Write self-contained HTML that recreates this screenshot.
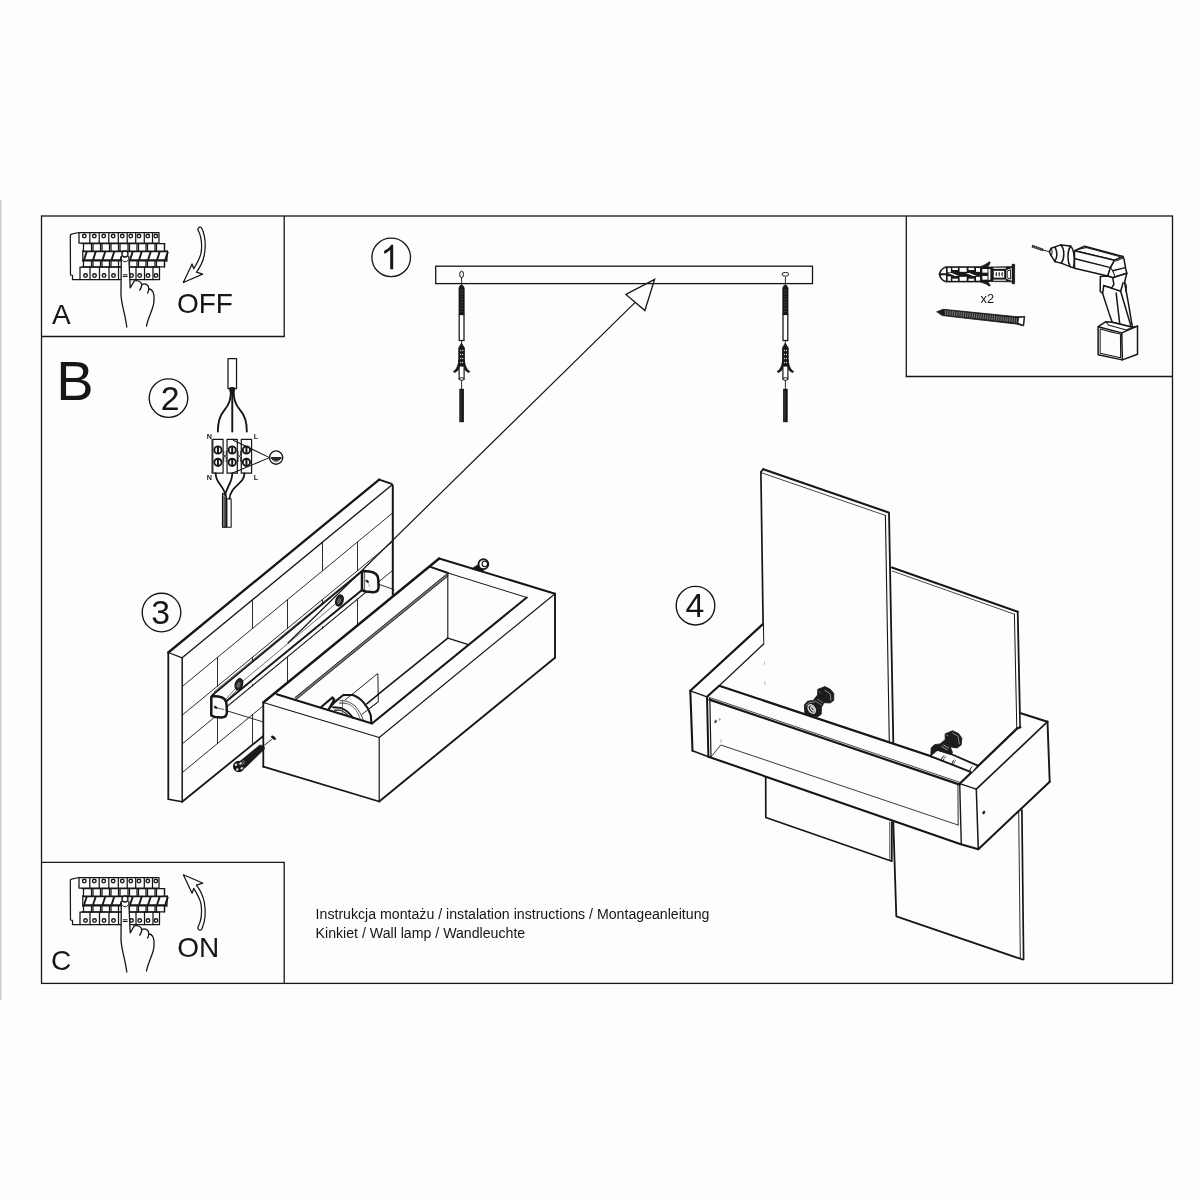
<!DOCTYPE html>
<html><head><meta charset="utf-8"><title>Instrukcja montazu</title>
<style>
html,body{margin:0;padding:0;background:#fdfdfb;}
svg{display:block;will-change:transform;}
text{font-family:"Liberation Sans",sans-serif;fill:#161616;}
</style></head><body>
<svg width="1200" height="1200" viewBox="0 0 1200 1200">
<rect x="0" y="0" width="1200" height="1200" fill="#fdfdfb"/>
<rect x="0" y="200" width="1.3" height="800" fill="#c9c9c9"/>
<rect x="41.5" y="216" width="1131" height="767.4" fill="none" stroke="#161616" stroke-width="1.3"/>
<path d="M41.5,336.5 L284.2,336.5 L284.2,216.0" fill="none" stroke="#161616" stroke-width="1.30" stroke-linejoin="miter" stroke-linecap="butt" />
<path d="M41.5,862.3 L284.2,862.3 L284.2,983.0" fill="none" stroke="#161616" stroke-width="1.30" stroke-linejoin="miter" stroke-linecap="butt" />
<path d="M906.3,216.0 L906.3,376.5 L1172.5,376.5" fill="none" stroke="#161616" stroke-width="1.30" stroke-linejoin="miter" stroke-linecap="butt" />
<text x="52.0" y="324.2" font-size="28" font-weight="normal" text-anchor="start" >A</text>
<text x="56.2" y="400.1" font-size="56" font-weight="normal" text-anchor="start" >B</text>
<text x="51.1" y="970.3" font-size="28" font-weight="normal" text-anchor="start" >C</text>
<text x="176.95" y="313.0" font-size="28" font-weight="normal" text-anchor="start" >OFF</text>
<text x="177.15" y="957.3" font-size="28" font-weight="normal" text-anchor="start" >ON</text>
<circle cx="391.2" cy="257.4" r="19.3" fill="none" stroke="#161616" stroke-width="1.35"/>
<circle cx="168.5" cy="398.1" r="19.3" fill="none" stroke="#161616" stroke-width="1.35"/>
<circle cx="161.5" cy="612.5" r="19.3" fill="none" stroke="#161616" stroke-width="1.35"/>
<circle cx="695.5" cy="605.7" r="19.3" fill="none" stroke="#161616" stroke-width="1.35"/>
<path transform="translate(380.42,269.3) scale(0.016748,-0.016748)" d="M763 0H583V1147Q518 1085 412.5 1023T223 930V1104Q373 1174.5 485.5 1275T645 1470H763Z" fill="#161616"/>
<text x="170.2" y="410.1" font-size="33.8" font-weight="normal" text-anchor="middle" >2</text>
<text x="160.6" y="624.4" font-size="33.8" font-weight="normal" text-anchor="middle" >3</text>
<text x="695.0" y="617.05" font-size="33.8" font-weight="normal" text-anchor="middle" >4</text>
<text x="315.6" y="918.8" font-size="14.15" font-weight="normal" text-anchor="start" >Instrukcja montażu / instalation instructions / Montageanleitung</text>
<text x="315.6" y="937.5" font-size="14.15" font-weight="normal" text-anchor="start" >Kinkiet / Wall lamp / Wandleuchte</text>
<g id="brkA"><g transform="translate(60,225) scale(0.100000)"><path d="M190,75 L115,92 Q103,96 103,110 L105,500 L125,504 L125,545 L200,545" fill="none" stroke="#161616" stroke-width="12.50" stroke-linejoin="round" stroke-linecap="round"/><path d="M190.0,75.0 L990.0,75.0 L990.0,180.0 L190.0,180.0 Z" fill="#fdfdfb" stroke="#161616" stroke-width="12.50" stroke-linejoin="round" stroke-linecap="round" /><line x1="298.0" y1="75.0" x2="298.0" y2="180.0" stroke="#161616" stroke-width="12.50" stroke-linecap="round"/><line x1="392.0" y1="75.0" x2="392.0" y2="180.0" stroke="#161616" stroke-width="12.50" stroke-linecap="round"/><line x1="488.0" y1="75.0" x2="488.0" y2="180.0" stroke="#161616" stroke-width="12.50" stroke-linecap="round"/><line x1="583.0" y1="75.0" x2="583.0" y2="180.0" stroke="#161616" stroke-width="12.50" stroke-linecap="round"/><line x1="672.0" y1="75.0" x2="672.0" y2="180.0" stroke="#161616" stroke-width="12.50" stroke-linecap="round"/><line x1="757.0" y1="75.0" x2="757.0" y2="180.0" stroke="#161616" stroke-width="12.50" stroke-linecap="round"/><line x1="843.0" y1="75.0" x2="843.0" y2="180.0" stroke="#161616" stroke-width="12.50" stroke-linecap="round"/><line x1="925.0" y1="75.0" x2="925.0" y2="180.0" stroke="#161616" stroke-width="12.50" stroke-linecap="round"/><circle cx="243.0" cy="110.0" r="18.0" fill="none" stroke="#161616" stroke-width="13.50"/><circle cx="343.0" cy="110.0" r="18.0" fill="none" stroke="#161616" stroke-width="13.50"/><circle cx="437.0" cy="110.0" r="18.0" fill="none" stroke="#161616" stroke-width="13.50"/><circle cx="532.0" cy="110.0" r="18.0" fill="none" stroke="#161616" stroke-width="13.50"/><circle cx="623.0" cy="110.0" r="18.0" fill="none" stroke="#161616" stroke-width="13.50"/><circle cx="708.0" cy="110.0" r="18.0" fill="none" stroke="#161616" stroke-width="13.50"/><circle cx="790.0" cy="110.0" r="18.0" fill="none" stroke="#161616" stroke-width="13.50"/><circle cx="878.0" cy="110.0" r="18.0" fill="none" stroke="#161616" stroke-width="13.50"/><circle cx="958.0" cy="110.0" r="18.0" fill="none" stroke="#161616" stroke-width="13.50"/><line x1="220.0" y1="185.0" x2="1045.0" y2="185.0" stroke="#161616" stroke-width="12.50" stroke-linecap="round"/><path d="M235.0,185.0 L235.0,255.0" fill="none" stroke="#161616" stroke-width="12.50" stroke-linejoin="round" stroke-linecap="round" /><path d="M315.0,185.0 L315.0,255.0" fill="none" stroke="#161616" stroke-width="12.50" stroke-linejoin="round" stroke-linecap="round" /><path d="M330.0,185.0 L330.0,255.0" fill="none" stroke="#161616" stroke-width="12.50" stroke-linejoin="round" stroke-linecap="round" /><path d="M405.0,185.0 L405.0,255.0" fill="none" stroke="#161616" stroke-width="12.50" stroke-linejoin="round" stroke-linecap="round" /><path d="M420.0,185.0 L420.0,255.0" fill="none" stroke="#161616" stroke-width="12.50" stroke-linejoin="round" stroke-linecap="round" /><path d="M495.0,185.0 L495.0,255.0" fill="none" stroke="#161616" stroke-width="12.50" stroke-linejoin="round" stroke-linecap="round" /><path d="M510.0,185.0 L510.0,255.0" fill="none" stroke="#161616" stroke-width="12.50" stroke-linejoin="round" stroke-linecap="round" /><path d="M585.0,185.0 L585.0,255.0" fill="none" stroke="#161616" stroke-width="12.50" stroke-linejoin="round" stroke-linecap="round" /><path d="M600.0,185.0 L600.0,255.0" fill="none" stroke="#161616" stroke-width="12.50" stroke-linejoin="round" stroke-linecap="round" /><path d="M680.0,185.0 L680.0,255.0" fill="none" stroke="#161616" stroke-width="12.50" stroke-linejoin="round" stroke-linecap="round" /><path d="M695.0,185.0 L695.0,255.0" fill="none" stroke="#161616" stroke-width="12.50" stroke-linejoin="round" stroke-linecap="round" /><path d="M770.0,185.0 L770.0,255.0" fill="none" stroke="#161616" stroke-width="12.50" stroke-linejoin="round" stroke-linecap="round" /><path d="M785.0,185.0 L785.0,255.0" fill="none" stroke="#161616" stroke-width="12.50" stroke-linejoin="round" stroke-linecap="round" /><path d="M860.0,185.0 L860.0,255.0" fill="none" stroke="#161616" stroke-width="12.50" stroke-linejoin="round" stroke-linecap="round" /><path d="M875.0,185.0 L875.0,255.0" fill="none" stroke="#161616" stroke-width="12.50" stroke-linejoin="round" stroke-linecap="round" /><path d="M950.0,185.0 L950.0,255.0" fill="none" stroke="#161616" stroke-width="12.50" stroke-linejoin="round" stroke-linecap="round" /><path d="M965.0,185.0 L965.0,255.0" fill="none" stroke="#161616" stroke-width="12.50" stroke-linejoin="round" stroke-linecap="round" /><path d="M1045.0,185.0 L1045.0,255.0" fill="none" stroke="#161616" stroke-width="12.50" stroke-linejoin="round" stroke-linecap="round" /><line x1="225.0" y1="263.0" x2="1075.0" y2="263.0" stroke="#161616" stroke-width="17.00" stroke-linecap="butt"/><line x1="225.0" y1="353.0" x2="1072.0" y2="353.0" stroke="#161616" stroke-width="23.00" stroke-linecap="butt"/><line x1="228.0" y1="258.0" x2="228.0" y2="362.0" stroke="#161616" stroke-width="12.50" stroke-linecap="round"/><line x1="1075.0" y1="258.0" x2="1068.0" y2="362.0" stroke="#161616" stroke-width="12.50" stroke-linecap="round"/><path d="M240.0,350.0 L267.0,268.0" fill="none" stroke="#161616" stroke-width="19.00" stroke-linejoin="round" stroke-linecap="butt" /><path d="M330.0,350.0 L357.0,268.0" fill="none" stroke="#161616" stroke-width="19.00" stroke-linejoin="round" stroke-linecap="butt" /><path d="M425.0,350.0 L452.0,268.0" fill="none" stroke="#161616" stroke-width="19.00" stroke-linejoin="round" stroke-linecap="butt" /><path d="M515.0,350.0 L542.0,268.0" fill="none" stroke="#161616" stroke-width="19.00" stroke-linejoin="round" stroke-linecap="butt" /><path d="M605.0,350.0 L632.0,268.0" fill="none" stroke="#161616" stroke-width="19.00" stroke-linejoin="round" stroke-linecap="butt" /><path d="M700.0,350.0 L727.0,268.0" fill="none" stroke="#161616" stroke-width="19.00" stroke-linejoin="round" stroke-linecap="butt" /><path d="M790.0,350.0 L817.0,268.0" fill="none" stroke="#161616" stroke-width="19.00" stroke-linejoin="round" stroke-linecap="butt" /><path d="M880.0,350.0 L907.0,268.0" fill="none" stroke="#161616" stroke-width="19.00" stroke-linejoin="round" stroke-linecap="butt" /><path d="M970.0,350.0 L997.0,268.0" fill="none" stroke="#161616" stroke-width="19.00" stroke-linejoin="round" stroke-linecap="butt" /><path d="M1052.0,350.0 L1079.0,268.0" fill="none" stroke="#161616" stroke-width="19.00" stroke-linejoin="round" stroke-linecap="butt" /><path d="M235.0,365.0 L235.0,418.0" fill="none" stroke="#161616" stroke-width="12.50" stroke-linejoin="round" stroke-linecap="round" /><path d="M315.0,365.0 L315.0,418.0" fill="none" stroke="#161616" stroke-width="12.50" stroke-linejoin="round" stroke-linecap="round" /><path d="M330.0,365.0 L330.0,418.0" fill="none" stroke="#161616" stroke-width="12.50" stroke-linejoin="round" stroke-linecap="round" /><path d="M405.0,365.0 L405.0,418.0" fill="none" stroke="#161616" stroke-width="12.50" stroke-linejoin="round" stroke-linecap="round" /><path d="M420.0,365.0 L420.0,418.0" fill="none" stroke="#161616" stroke-width="12.50" stroke-linejoin="round" stroke-linecap="round" /><path d="M495.0,365.0 L495.0,418.0" fill="none" stroke="#161616" stroke-width="12.50" stroke-linejoin="round" stroke-linecap="round" /><path d="M510.0,365.0 L510.0,418.0" fill="none" stroke="#161616" stroke-width="12.50" stroke-linejoin="round" stroke-linecap="round" /><path d="M585.0,365.0 L585.0,418.0" fill="none" stroke="#161616" stroke-width="12.50" stroke-linejoin="round" stroke-linecap="round" /><path d="M695.0,365.0 L695.0,418.0" fill="none" stroke="#161616" stroke-width="12.50" stroke-linejoin="round" stroke-linecap="round" /><path d="M770.0,365.0 L770.0,418.0" fill="none" stroke="#161616" stroke-width="12.50" stroke-linejoin="round" stroke-linecap="round" /><path d="M785.0,365.0 L785.0,418.0" fill="none" stroke="#161616" stroke-width="12.50" stroke-linejoin="round" stroke-linecap="round" /><path d="M860.0,365.0 L860.0,418.0" fill="none" stroke="#161616" stroke-width="12.50" stroke-linejoin="round" stroke-linecap="round" /><path d="M875.0,365.0 L875.0,418.0" fill="none" stroke="#161616" stroke-width="12.50" stroke-linejoin="round" stroke-linecap="round" /><path d="M950.0,365.0 L950.0,418.0" fill="none" stroke="#161616" stroke-width="12.50" stroke-linejoin="round" stroke-linecap="round" /><path d="M965.0,365.0 L965.0,418.0" fill="none" stroke="#161616" stroke-width="12.50" stroke-linejoin="round" stroke-linecap="round" /><path d="M1045.0,365.0 L1045.0,418.0" fill="none" stroke="#161616" stroke-width="12.50" stroke-linejoin="round" stroke-linecap="round" /><line x1="220.0" y1="418.0" x2="1045.0" y2="418.0" stroke="#161616" stroke-width="12.50" stroke-linecap="round"/><line x1="1045.0" y1="365.0" x2="1045.0" y2="418.0" stroke="#161616" stroke-width="12.50" stroke-linecap="round"/><line x1="1045.0" y1="185.0" x2="1045.0" y2="258.0" stroke="#161616" stroke-width="12.50" stroke-linecap="round"/><path d="M200.0,420.0 L995.0,420.0 L995.0,545.0 L200.0,545.0 Z" fill="none" stroke="#161616" stroke-width="12.50" stroke-linejoin="round" stroke-linecap="round" /><line x1="300.0" y1="420.0" x2="300.0" y2="545.0" stroke="#161616" stroke-width="12.50" stroke-linecap="round"/><line x1="395.0" y1="420.0" x2="395.0" y2="545.0" stroke="#161616" stroke-width="12.50" stroke-linecap="round"/><line x1="490.0" y1="420.0" x2="490.0" y2="545.0" stroke="#161616" stroke-width="12.50" stroke-linecap="round"/><line x1="585.0" y1="420.0" x2="585.0" y2="545.0" stroke="#161616" stroke-width="12.50" stroke-linecap="round"/><line x1="760.0" y1="420.0" x2="760.0" y2="545.0" stroke="#161616" stroke-width="12.50" stroke-linecap="round"/><line x1="845.0" y1="420.0" x2="845.0" y2="545.0" stroke="#161616" stroke-width="12.50" stroke-linecap="round"/><line x1="930.0" y1="420.0" x2="930.0" y2="545.0" stroke="#161616" stroke-width="12.50" stroke-linecap="round"/><circle cx="255.0" cy="505.0" r="18.0" fill="none" stroke="#161616" stroke-width="13.50"/><circle cx="345.0" cy="505.0" r="18.0" fill="none" stroke="#161616" stroke-width="13.50"/><circle cx="440.0" cy="505.0" r="18.0" fill="none" stroke="#161616" stroke-width="13.50"/><circle cx="535.0" cy="505.0" r="18.0" fill="none" stroke="#161616" stroke-width="13.50"/><circle cx="715.0" cy="505.0" r="18.0" fill="none" stroke="#161616" stroke-width="13.50"/><circle cx="797.0" cy="505.0" r="18.0" fill="none" stroke="#161616" stroke-width="13.50"/><circle cx="880.0" cy="505.0" r="18.0" fill="none" stroke="#161616" stroke-width="13.50"/><circle cx="960.0" cy="505.0" r="18.0" fill="none" stroke="#161616" stroke-width="13.50"/><path d="M612,300 L610,700 C615,800 650,880 668,1020 L865,1010 C880,920 940,830 940,760 C946,690 930,640 888,640 C890,600 860,580 820,592 C800,555 760,550 742,560 L702,628 L690,300 C690,255 612,255 612,300 Z" fill="#fdfdfb" stroke="none" stroke-width="0.10" stroke-linejoin="round" stroke-linecap="round"/><circle cx="650.0" cy="290.0" r="30.0" fill="#fdfdfb" stroke="#161616" stroke-width="13.00"/><path d="M625,355 Q650,385 678,355" fill="none" stroke="#161616" stroke-width="10.00" stroke-linejoin="round" stroke-linecap="round"/><path d="M613,315 L610,700 C615,800 650,880 668,1020" fill="none" stroke="#161616" stroke-width="13.00" stroke-linejoin="round" stroke-linecap="round"/><path d="M688,315 L702,628 L742,560" fill="none" stroke="#161616" stroke-width="13.00" stroke-linejoin="round" stroke-linecap="round"/><path d="M742,560 C770,548 805,560 820,595 C815,620 805,640 798,652" fill="none" stroke="#161616" stroke-width="13.00" stroke-linejoin="round" stroke-linecap="round"/><path d="M820,595 C855,578 890,600 888,640 C885,660 880,672 876,682" fill="none" stroke="#161616" stroke-width="13.00" stroke-linejoin="round" stroke-linecap="round"/><path d="M888,640 C930,640 946,690 940,760 C940,830 880,920 865,1010" fill="none" stroke="#161616" stroke-width="13.00" stroke-linejoin="round" stroke-linecap="round"/><line x1="632.0" y1="498.0" x2="672.0" y2="498.0" stroke="#161616" stroke-width="10.00" stroke-linecap="round"/><line x1="632.0" y1="515.0" x2="672.0" y2="515.0" stroke="#161616" stroke-width="10.00" stroke-linecap="round"/></g></g>
<g transform="translate(0,645)"><g transform="translate(60,225) scale(0.100000)"><path d="M190,75 L115,92 Q103,96 103,110 L105,500 L125,504 L125,545 L200,545" fill="none" stroke="#161616" stroke-width="12.50" stroke-linejoin="round" stroke-linecap="round"/><path d="M190.0,75.0 L990.0,75.0 L990.0,180.0 L190.0,180.0 Z" fill="#fdfdfb" stroke="#161616" stroke-width="12.50" stroke-linejoin="round" stroke-linecap="round" /><line x1="298.0" y1="75.0" x2="298.0" y2="180.0" stroke="#161616" stroke-width="12.50" stroke-linecap="round"/><line x1="392.0" y1="75.0" x2="392.0" y2="180.0" stroke="#161616" stroke-width="12.50" stroke-linecap="round"/><line x1="488.0" y1="75.0" x2="488.0" y2="180.0" stroke="#161616" stroke-width="12.50" stroke-linecap="round"/><line x1="583.0" y1="75.0" x2="583.0" y2="180.0" stroke="#161616" stroke-width="12.50" stroke-linecap="round"/><line x1="672.0" y1="75.0" x2="672.0" y2="180.0" stroke="#161616" stroke-width="12.50" stroke-linecap="round"/><line x1="757.0" y1="75.0" x2="757.0" y2="180.0" stroke="#161616" stroke-width="12.50" stroke-linecap="round"/><line x1="843.0" y1="75.0" x2="843.0" y2="180.0" stroke="#161616" stroke-width="12.50" stroke-linecap="round"/><line x1="925.0" y1="75.0" x2="925.0" y2="180.0" stroke="#161616" stroke-width="12.50" stroke-linecap="round"/><circle cx="243.0" cy="110.0" r="18.0" fill="none" stroke="#161616" stroke-width="13.50"/><circle cx="343.0" cy="110.0" r="18.0" fill="none" stroke="#161616" stroke-width="13.50"/><circle cx="437.0" cy="110.0" r="18.0" fill="none" stroke="#161616" stroke-width="13.50"/><circle cx="532.0" cy="110.0" r="18.0" fill="none" stroke="#161616" stroke-width="13.50"/><circle cx="623.0" cy="110.0" r="18.0" fill="none" stroke="#161616" stroke-width="13.50"/><circle cx="708.0" cy="110.0" r="18.0" fill="none" stroke="#161616" stroke-width="13.50"/><circle cx="790.0" cy="110.0" r="18.0" fill="none" stroke="#161616" stroke-width="13.50"/><circle cx="878.0" cy="110.0" r="18.0" fill="none" stroke="#161616" stroke-width="13.50"/><circle cx="958.0" cy="110.0" r="18.0" fill="none" stroke="#161616" stroke-width="13.50"/><line x1="220.0" y1="185.0" x2="1045.0" y2="185.0" stroke="#161616" stroke-width="12.50" stroke-linecap="round"/><path d="M235.0,185.0 L235.0,255.0" fill="none" stroke="#161616" stroke-width="12.50" stroke-linejoin="round" stroke-linecap="round" /><path d="M315.0,185.0 L315.0,255.0" fill="none" stroke="#161616" stroke-width="12.50" stroke-linejoin="round" stroke-linecap="round" /><path d="M330.0,185.0 L330.0,255.0" fill="none" stroke="#161616" stroke-width="12.50" stroke-linejoin="round" stroke-linecap="round" /><path d="M405.0,185.0 L405.0,255.0" fill="none" stroke="#161616" stroke-width="12.50" stroke-linejoin="round" stroke-linecap="round" /><path d="M420.0,185.0 L420.0,255.0" fill="none" stroke="#161616" stroke-width="12.50" stroke-linejoin="round" stroke-linecap="round" /><path d="M495.0,185.0 L495.0,255.0" fill="none" stroke="#161616" stroke-width="12.50" stroke-linejoin="round" stroke-linecap="round" /><path d="M510.0,185.0 L510.0,255.0" fill="none" stroke="#161616" stroke-width="12.50" stroke-linejoin="round" stroke-linecap="round" /><path d="M585.0,185.0 L585.0,255.0" fill="none" stroke="#161616" stroke-width="12.50" stroke-linejoin="round" stroke-linecap="round" /><path d="M600.0,185.0 L600.0,255.0" fill="none" stroke="#161616" stroke-width="12.50" stroke-linejoin="round" stroke-linecap="round" /><path d="M680.0,185.0 L680.0,255.0" fill="none" stroke="#161616" stroke-width="12.50" stroke-linejoin="round" stroke-linecap="round" /><path d="M695.0,185.0 L695.0,255.0" fill="none" stroke="#161616" stroke-width="12.50" stroke-linejoin="round" stroke-linecap="round" /><path d="M770.0,185.0 L770.0,255.0" fill="none" stroke="#161616" stroke-width="12.50" stroke-linejoin="round" stroke-linecap="round" /><path d="M785.0,185.0 L785.0,255.0" fill="none" stroke="#161616" stroke-width="12.50" stroke-linejoin="round" stroke-linecap="round" /><path d="M860.0,185.0 L860.0,255.0" fill="none" stroke="#161616" stroke-width="12.50" stroke-linejoin="round" stroke-linecap="round" /><path d="M875.0,185.0 L875.0,255.0" fill="none" stroke="#161616" stroke-width="12.50" stroke-linejoin="round" stroke-linecap="round" /><path d="M950.0,185.0 L950.0,255.0" fill="none" stroke="#161616" stroke-width="12.50" stroke-linejoin="round" stroke-linecap="round" /><path d="M965.0,185.0 L965.0,255.0" fill="none" stroke="#161616" stroke-width="12.50" stroke-linejoin="round" stroke-linecap="round" /><path d="M1045.0,185.0 L1045.0,255.0" fill="none" stroke="#161616" stroke-width="12.50" stroke-linejoin="round" stroke-linecap="round" /><line x1="225.0" y1="263.0" x2="1075.0" y2="263.0" stroke="#161616" stroke-width="17.00" stroke-linecap="butt"/><line x1="225.0" y1="353.0" x2="1072.0" y2="353.0" stroke="#161616" stroke-width="23.00" stroke-linecap="butt"/><line x1="228.0" y1="258.0" x2="228.0" y2="362.0" stroke="#161616" stroke-width="12.50" stroke-linecap="round"/><line x1="1075.0" y1="258.0" x2="1068.0" y2="362.0" stroke="#161616" stroke-width="12.50" stroke-linecap="round"/><path d="M240.0,350.0 L267.0,268.0" fill="none" stroke="#161616" stroke-width="19.00" stroke-linejoin="round" stroke-linecap="butt" /><path d="M330.0,350.0 L357.0,268.0" fill="none" stroke="#161616" stroke-width="19.00" stroke-linejoin="round" stroke-linecap="butt" /><path d="M425.0,350.0 L452.0,268.0" fill="none" stroke="#161616" stroke-width="19.00" stroke-linejoin="round" stroke-linecap="butt" /><path d="M515.0,350.0 L542.0,268.0" fill="none" stroke="#161616" stroke-width="19.00" stroke-linejoin="round" stroke-linecap="butt" /><path d="M605.0,350.0 L632.0,268.0" fill="none" stroke="#161616" stroke-width="19.00" stroke-linejoin="round" stroke-linecap="butt" /><path d="M700.0,350.0 L727.0,268.0" fill="none" stroke="#161616" stroke-width="19.00" stroke-linejoin="round" stroke-linecap="butt" /><path d="M790.0,350.0 L817.0,268.0" fill="none" stroke="#161616" stroke-width="19.00" stroke-linejoin="round" stroke-linecap="butt" /><path d="M880.0,350.0 L907.0,268.0" fill="none" stroke="#161616" stroke-width="19.00" stroke-linejoin="round" stroke-linecap="butt" /><path d="M970.0,350.0 L997.0,268.0" fill="none" stroke="#161616" stroke-width="19.00" stroke-linejoin="round" stroke-linecap="butt" /><path d="M1052.0,350.0 L1079.0,268.0" fill="none" stroke="#161616" stroke-width="19.00" stroke-linejoin="round" stroke-linecap="butt" /><path d="M235.0,365.0 L235.0,418.0" fill="none" stroke="#161616" stroke-width="12.50" stroke-linejoin="round" stroke-linecap="round" /><path d="M315.0,365.0 L315.0,418.0" fill="none" stroke="#161616" stroke-width="12.50" stroke-linejoin="round" stroke-linecap="round" /><path d="M330.0,365.0 L330.0,418.0" fill="none" stroke="#161616" stroke-width="12.50" stroke-linejoin="round" stroke-linecap="round" /><path d="M405.0,365.0 L405.0,418.0" fill="none" stroke="#161616" stroke-width="12.50" stroke-linejoin="round" stroke-linecap="round" /><path d="M420.0,365.0 L420.0,418.0" fill="none" stroke="#161616" stroke-width="12.50" stroke-linejoin="round" stroke-linecap="round" /><path d="M495.0,365.0 L495.0,418.0" fill="none" stroke="#161616" stroke-width="12.50" stroke-linejoin="round" stroke-linecap="round" /><path d="M510.0,365.0 L510.0,418.0" fill="none" stroke="#161616" stroke-width="12.50" stroke-linejoin="round" stroke-linecap="round" /><path d="M585.0,365.0 L585.0,418.0" fill="none" stroke="#161616" stroke-width="12.50" stroke-linejoin="round" stroke-linecap="round" /><path d="M695.0,365.0 L695.0,418.0" fill="none" stroke="#161616" stroke-width="12.50" stroke-linejoin="round" stroke-linecap="round" /><path d="M770.0,365.0 L770.0,418.0" fill="none" stroke="#161616" stroke-width="12.50" stroke-linejoin="round" stroke-linecap="round" /><path d="M785.0,365.0 L785.0,418.0" fill="none" stroke="#161616" stroke-width="12.50" stroke-linejoin="round" stroke-linecap="round" /><path d="M860.0,365.0 L860.0,418.0" fill="none" stroke="#161616" stroke-width="12.50" stroke-linejoin="round" stroke-linecap="round" /><path d="M875.0,365.0 L875.0,418.0" fill="none" stroke="#161616" stroke-width="12.50" stroke-linejoin="round" stroke-linecap="round" /><path d="M950.0,365.0 L950.0,418.0" fill="none" stroke="#161616" stroke-width="12.50" stroke-linejoin="round" stroke-linecap="round" /><path d="M965.0,365.0 L965.0,418.0" fill="none" stroke="#161616" stroke-width="12.50" stroke-linejoin="round" stroke-linecap="round" /><path d="M1045.0,365.0 L1045.0,418.0" fill="none" stroke="#161616" stroke-width="12.50" stroke-linejoin="round" stroke-linecap="round" /><line x1="220.0" y1="418.0" x2="1045.0" y2="418.0" stroke="#161616" stroke-width="12.50" stroke-linecap="round"/><line x1="1045.0" y1="365.0" x2="1045.0" y2="418.0" stroke="#161616" stroke-width="12.50" stroke-linecap="round"/><line x1="1045.0" y1="185.0" x2="1045.0" y2="258.0" stroke="#161616" stroke-width="12.50" stroke-linecap="round"/><path d="M200.0,420.0 L995.0,420.0 L995.0,545.0 L200.0,545.0 Z" fill="none" stroke="#161616" stroke-width="12.50" stroke-linejoin="round" stroke-linecap="round" /><line x1="300.0" y1="420.0" x2="300.0" y2="545.0" stroke="#161616" stroke-width="12.50" stroke-linecap="round"/><line x1="395.0" y1="420.0" x2="395.0" y2="545.0" stroke="#161616" stroke-width="12.50" stroke-linecap="round"/><line x1="490.0" y1="420.0" x2="490.0" y2="545.0" stroke="#161616" stroke-width="12.50" stroke-linecap="round"/><line x1="585.0" y1="420.0" x2="585.0" y2="545.0" stroke="#161616" stroke-width="12.50" stroke-linecap="round"/><line x1="760.0" y1="420.0" x2="760.0" y2="545.0" stroke="#161616" stroke-width="12.50" stroke-linecap="round"/><line x1="845.0" y1="420.0" x2="845.0" y2="545.0" stroke="#161616" stroke-width="12.50" stroke-linecap="round"/><line x1="930.0" y1="420.0" x2="930.0" y2="545.0" stroke="#161616" stroke-width="12.50" stroke-linecap="round"/><circle cx="255.0" cy="505.0" r="18.0" fill="none" stroke="#161616" stroke-width="13.50"/><circle cx="345.0" cy="505.0" r="18.0" fill="none" stroke="#161616" stroke-width="13.50"/><circle cx="440.0" cy="505.0" r="18.0" fill="none" stroke="#161616" stroke-width="13.50"/><circle cx="535.0" cy="505.0" r="18.0" fill="none" stroke="#161616" stroke-width="13.50"/><circle cx="715.0" cy="505.0" r="18.0" fill="none" stroke="#161616" stroke-width="13.50"/><circle cx="797.0" cy="505.0" r="18.0" fill="none" stroke="#161616" stroke-width="13.50"/><circle cx="880.0" cy="505.0" r="18.0" fill="none" stroke="#161616" stroke-width="13.50"/><circle cx="960.0" cy="505.0" r="18.0" fill="none" stroke="#161616" stroke-width="13.50"/><path d="M612,300 L610,700 C615,800 650,880 668,1020 L865,1010 C880,920 940,830 940,760 C946,690 930,640 888,640 C890,600 860,580 820,592 C800,555 760,550 742,560 L702,628 L690,300 C690,255 612,255 612,300 Z" fill="#fdfdfb" stroke="none" stroke-width="0.10" stroke-linejoin="round" stroke-linecap="round"/><circle cx="650.0" cy="290.0" r="30.0" fill="#fdfdfb" stroke="#161616" stroke-width="13.00"/><path d="M625,355 Q650,385 678,355" fill="none" stroke="#161616" stroke-width="10.00" stroke-linejoin="round" stroke-linecap="round"/><path d="M613,315 L610,700 C615,800 650,880 668,1020" fill="none" stroke="#161616" stroke-width="13.00" stroke-linejoin="round" stroke-linecap="round"/><path d="M688,315 L702,628 L742,560" fill="none" stroke="#161616" stroke-width="13.00" stroke-linejoin="round" stroke-linecap="round"/><path d="M742,560 C770,548 805,560 820,595 C815,620 805,640 798,652" fill="none" stroke="#161616" stroke-width="13.00" stroke-linejoin="round" stroke-linecap="round"/><path d="M820,595 C855,578 890,600 888,640 C885,660 880,672 876,682" fill="none" stroke="#161616" stroke-width="13.00" stroke-linejoin="round" stroke-linecap="round"/><path d="M888,640 C930,640 946,690 940,760 C940,830 880,920 865,1010" fill="none" stroke="#161616" stroke-width="13.00" stroke-linejoin="round" stroke-linecap="round"/><line x1="632.0" y1="498.0" x2="672.0" y2="498.0" stroke="#161616" stroke-width="10.00" stroke-linecap="round"/><line x1="632.0" y1="515.0" x2="672.0" y2="515.0" stroke="#161616" stroke-width="10.00" stroke-linecap="round"/></g></g>
<g transform="translate(160,220) scale(0.083333)"><path d="M462,95 C470,80 495,82 502,98 C535,170 552,300 532,420 C515,500 480,570 437,625 L512,650 L280,750 L385,528 L405,585 C445,520 480,450 492,400 C508,300 498,200 455,118 Q452,105 462,95 Z" fill="#fdfdfb" stroke="#161616" stroke-width="15.00" stroke-linejoin="round" stroke-linecap="round"/></g>
<g transform="translate(0,1157.2) scale(1,-1)"><g transform="translate(160,220) scale(0.083333)"><path d="M462,95 C470,80 495,82 502,98 C535,170 552,300 532,420 C515,500 480,570 437,625 L512,650 L280,750 L385,528 L405,585 C445,520 480,450 492,400 C508,300 498,200 455,118 Q452,105 462,95 Z" fill="#fdfdfb" stroke="#161616" stroke-width="15.00" stroke-linejoin="round" stroke-linecap="round"/></g></g>
<rect x="435.7" y="266.2" width="376.8" height="17.4" fill="none" stroke="#161616" stroke-width="1.3"/>
<ellipse cx="461.6" cy="274.4" rx="1.9" ry="3.3" fill="none" stroke="#161616" stroke-width="1.00"/>
<ellipse cx="785.4" cy="274.3" rx="3.3" ry="1.9" fill="none" stroke="#161616" stroke-width="1.00"/>
<line x1="461.6" y1="277.5" x2="461.6" y2="286.5" stroke="#161616" stroke-width="0.90" stroke-linecap="round"/><path d="M460.40000000000003,285.5 L462.8,285.5 L464.20000000000005,288 L464.20000000000005,314.5 L459.0,314.5 L459.0,288 Z" fill="#161616" stroke="#161616" stroke-width="0.80" stroke-linejoin="round" stroke-linecap="round"/><line x1="460.6" y1="290.0" x2="462.6" y2="290.8" stroke="#777" stroke-width="0.50" stroke-linecap="round"/><line x1="460.6" y1="293.0" x2="462.6" y2="293.8" stroke="#777" stroke-width="0.50" stroke-linecap="round"/><line x1="460.6" y1="296.0" x2="462.6" y2="296.8" stroke="#777" stroke-width="0.50" stroke-linecap="round"/><line x1="460.6" y1="299.0" x2="462.6" y2="299.8" stroke="#777" stroke-width="0.50" stroke-linecap="round"/><line x1="460.6" y1="302.0" x2="462.6" y2="302.8" stroke="#777" stroke-width="0.50" stroke-linecap="round"/><line x1="460.6" y1="305.0" x2="462.6" y2="305.8" stroke="#777" stroke-width="0.50" stroke-linecap="round"/><line x1="460.6" y1="308.0" x2="462.6" y2="308.8" stroke="#777" stroke-width="0.50" stroke-linecap="round"/><line x1="460.6" y1="311.0" x2="462.6" y2="311.8" stroke="#777" stroke-width="0.50" stroke-linecap="round"/><rect x="459.20000000000005" y="314.5" width="4.8" height="26" fill="#fdfdfb" stroke="#161616" stroke-width="1.25"/><line x1="461.6" y1="340.5" x2="461.6" y2="344.0" stroke="#161616" stroke-width="0.90" stroke-linecap="round"/><path d="M461.6,343.5 L464.40000000000003,348 L464.40000000000003,366 L458.8,366 L458.8,348 Z" fill="#161616" stroke="#161616" stroke-width="0.90" stroke-linejoin="round" stroke-linecap="round"/><rect x="460.1" y="349.8" width="1.1" height="1.4" fill="#ddd"/><rect x="462.1" y="349.8" width="1.1" height="1.4" fill="#ddd"/><rect x="460.1" y="353.8" width="1.1" height="1.4" fill="#ddd"/><rect x="462.1" y="353.8" width="1.1" height="1.4" fill="#ddd"/><rect x="460.1" y="357.8" width="1.1" height="1.4" fill="#ddd"/><rect x="462.1" y="357.8" width="1.1" height="1.4" fill="#ddd"/><rect x="460.1" y="361.8" width="1.1" height="1.4" fill="#ddd"/><rect x="462.1" y="361.8" width="1.1" height="1.4" fill="#ddd"/><path d="M459.0,360 C458.1,366 456.6,369.5 453.3,371.5 L454.40000000000003,372.6 C457.6,371.5 459.0,369 459.40000000000003,366 Z" fill="#161616" stroke="#161616" stroke-width="0.80" stroke-linejoin="round" stroke-linecap="round"/><path d="M464.20000000000005,360 C465.1,366 466.6,369.5 469.90000000000003,371.5 L468.8,372.6 C465.6,371.5 464.20000000000005,369 463.8,366 Z" fill="#161616" stroke="#161616" stroke-width="0.80" stroke-linejoin="round" stroke-linecap="round"/><rect x="459.1" y="366" width="5" height="13" fill="#fdfdfb" stroke="#161616" stroke-width="1.2"/><ellipse cx="461.6" cy="379.0" rx="2.5" ry="1.3" fill="#fdfdfb" stroke="#161616" stroke-width="1.00"/><line x1="461.6" y1="380.5" x2="461.6" y2="389.0" stroke="#161616" stroke-width="0.90" stroke-linecap="round"/><rect x="459.3" y="388.8" width="4.6" height="33.4" fill="#161616"/><line x1="461.0" y1="391.0" x2="461.0" y2="421.0" stroke="#666" stroke-width="0.50" stroke-linecap="round"/>
<line x1="785.4" y1="277.5" x2="785.4" y2="286.5" stroke="#161616" stroke-width="0.90" stroke-linecap="round"/><path d="M784.1999999999999,285.5 L786.6,285.5 L788.0,288 L788.0,314.5 L782.8,314.5 L782.8,288 Z" fill="#161616" stroke="#161616" stroke-width="0.80" stroke-linejoin="round" stroke-linecap="round"/><line x1="784.4" y1="290.0" x2="786.4" y2="290.8" stroke="#777" stroke-width="0.50" stroke-linecap="round"/><line x1="784.4" y1="293.0" x2="786.4" y2="293.8" stroke="#777" stroke-width="0.50" stroke-linecap="round"/><line x1="784.4" y1="296.0" x2="786.4" y2="296.8" stroke="#777" stroke-width="0.50" stroke-linecap="round"/><line x1="784.4" y1="299.0" x2="786.4" y2="299.8" stroke="#777" stroke-width="0.50" stroke-linecap="round"/><line x1="784.4" y1="302.0" x2="786.4" y2="302.8" stroke="#777" stroke-width="0.50" stroke-linecap="round"/><line x1="784.4" y1="305.0" x2="786.4" y2="305.8" stroke="#777" stroke-width="0.50" stroke-linecap="round"/><line x1="784.4" y1="308.0" x2="786.4" y2="308.8" stroke="#777" stroke-width="0.50" stroke-linecap="round"/><line x1="784.4" y1="311.0" x2="786.4" y2="311.8" stroke="#777" stroke-width="0.50" stroke-linecap="round"/><rect x="783.0" y="314.5" width="4.8" height="26" fill="#fdfdfb" stroke="#161616" stroke-width="1.25"/><line x1="785.4" y1="340.5" x2="785.4" y2="344.0" stroke="#161616" stroke-width="0.90" stroke-linecap="round"/><path d="M785.4,343.5 L788.1999999999999,348 L788.1999999999999,366 L782.6,366 L782.6,348 Z" fill="#161616" stroke="#161616" stroke-width="0.90" stroke-linejoin="round" stroke-linecap="round"/><rect x="783.9" y="349.8" width="1.1" height="1.4" fill="#ddd"/><rect x="785.9" y="349.8" width="1.1" height="1.4" fill="#ddd"/><rect x="783.9" y="353.8" width="1.1" height="1.4" fill="#ddd"/><rect x="785.9" y="353.8" width="1.1" height="1.4" fill="#ddd"/><rect x="783.9" y="357.8" width="1.1" height="1.4" fill="#ddd"/><rect x="785.9" y="357.8" width="1.1" height="1.4" fill="#ddd"/><rect x="783.9" y="361.8" width="1.1" height="1.4" fill="#ddd"/><rect x="785.9" y="361.8" width="1.1" height="1.4" fill="#ddd"/><path d="M782.8,360 C781.9,366 780.4,369.5 777.1,371.5 L778.1999999999999,372.6 C781.4,371.5 782.8,369 783.1999999999999,366 Z" fill="#161616" stroke="#161616" stroke-width="0.80" stroke-linejoin="round" stroke-linecap="round"/><path d="M788.0,360 C788.9,366 790.4,369.5 793.6999999999999,371.5 L792.6,372.6 C789.4,371.5 788.0,369 787.6,366 Z" fill="#161616" stroke="#161616" stroke-width="0.80" stroke-linejoin="round" stroke-linecap="round"/><rect x="782.9" y="366" width="5" height="13" fill="#fdfdfb" stroke="#161616" stroke-width="1.2"/><ellipse cx="785.4" cy="379.0" rx="2.5" ry="1.3" fill="#fdfdfb" stroke="#161616" stroke-width="1.00"/><line x1="785.4" y1="380.5" x2="785.4" y2="389.0" stroke="#161616" stroke-width="0.90" stroke-linecap="round"/><rect x="783.1" y="388.8" width="4.6" height="33.4" fill="#161616"/><line x1="784.8" y1="391.0" x2="784.8" y2="421.0" stroke="#666" stroke-width="0.50" stroke-linecap="round"/>
<path d="M654.6,279.3 L625.9,294.4 L644.9,310.5 Z" fill="none" stroke="#161616" stroke-width="1.30" stroke-linejoin="miter" stroke-linecap="round" />
<g transform="translate(140,350) scale(0.158259)"><path d="M556.0,55.0 L610.0,55.0 L610.0,244.0 L556.0,244.0 Z" fill="none" stroke="#161616" stroke-width="7.90" stroke-linejoin="round" stroke-linecap="round" /><path d="M576,240 C574,320 562,345 532,382 C506,412 492,450 492,515" fill="none" stroke="#161616" stroke-width="12.01" stroke-linejoin="round" stroke-linecap="round"/><path d="M583,240 L583,515" fill="none" stroke="#161616" stroke-width="12.01" stroke-linejoin="round" stroke-linecap="round"/><path d="M590,240 C592,320 604,345 634,382 C661,412 675,450 675,515" fill="none" stroke="#161616" stroke-width="12.01" stroke-linejoin="round" stroke-linecap="round"/><path d="M565,240 L600,240 L592,275 L574,275 Z" fill="#161616" stroke="#161616" stroke-width="5.05" stroke-linejoin="round" stroke-linecap="round"/><path d="M460.0,565.0 L525.0,565.0 L525.0,778.0 L460.0,778.0 Z" fill="none" stroke="#161616" stroke-width="7.58" stroke-linejoin="round" stroke-linecap="round" /><circle cx="492.5" cy="632.0" r="23.0" fill="none" stroke="#161616" stroke-width="12.01"/><line x1="492.5" y1="610.0" x2="492.5" y2="654.0" stroke="#161616" stroke-width="12.64" stroke-linecap="butt"/><circle cx="492.5" cy="710.0" r="23.0" fill="none" stroke="#161616" stroke-width="12.01"/><line x1="492.5" y1="688.0" x2="492.5" y2="732.0" stroke="#161616" stroke-width="12.64" stroke-linecap="butt"/><path d="M550.0,565.0 L615.0,565.0 L615.0,778.0 L550.0,778.0 Z" fill="none" stroke="#161616" stroke-width="7.58" stroke-linejoin="round" stroke-linecap="round" /><circle cx="582.5" cy="632.0" r="23.0" fill="none" stroke="#161616" stroke-width="12.01"/><line x1="582.5" y1="610.0" x2="582.5" y2="654.0" stroke="#161616" stroke-width="12.64" stroke-linecap="butt"/><circle cx="582.5" cy="710.0" r="23.0" fill="none" stroke="#161616" stroke-width="12.01"/><line x1="582.5" y1="688.0" x2="582.5" y2="732.0" stroke="#161616" stroke-width="12.64" stroke-linecap="butt"/><path d="M640.0,565.0 L705.0,565.0 L705.0,778.0 L640.0,778.0 Z" fill="none" stroke="#161616" stroke-width="7.58" stroke-linejoin="round" stroke-linecap="round" /><circle cx="672.5" cy="632.0" r="23.0" fill="none" stroke="#161616" stroke-width="12.01"/><line x1="672.5" y1="610.0" x2="672.5" y2="654.0" stroke="#161616" stroke-width="12.64" stroke-linecap="butt"/><circle cx="672.5" cy="710.0" r="23.0" fill="none" stroke="#161616" stroke-width="12.01"/><line x1="672.5" y1="688.0" x2="672.5" y2="732.0" stroke="#161616" stroke-width="12.64" stroke-linecap="butt"/><line x1="455.0" y1="565.0" x2="455.0" y2="778.0" stroke="#161616" stroke-width="6.32" stroke-linecap="round"/><line x1="529.0" y1="662.0" x2="545.0" y2="680.0" stroke="#161616" stroke-width="5.05" stroke-linecap="round"/><line x1="545.0" y1="662.0" x2="529.0" y2="680.0" stroke="#161616" stroke-width="5.05" stroke-linecap="round"/><line x1="529.0" y1="640.0" x2="529.0" y2="662.0" stroke="#161616" stroke-width="5.05" stroke-linecap="round"/><line x1="545.0" y1="640.0" x2="545.0" y2="662.0" stroke="#161616" stroke-width="5.05" stroke-linecap="round"/><line x1="529.0" y1="680.0" x2="529.0" y2="705.0" stroke="#161616" stroke-width="5.05" stroke-linecap="round"/><line x1="545.0" y1="680.0" x2="545.0" y2="705.0" stroke="#161616" stroke-width="5.05" stroke-linecap="round"/><line x1="620.0" y1="662.0" x2="636.0" y2="680.0" stroke="#161616" stroke-width="5.05" stroke-linecap="round"/><line x1="636.0" y1="662.0" x2="620.0" y2="680.0" stroke="#161616" stroke-width="5.05" stroke-linecap="round"/><line x1="620.0" y1="640.0" x2="620.0" y2="662.0" stroke="#161616" stroke-width="5.05" stroke-linecap="round"/><line x1="636.0" y1="640.0" x2="636.0" y2="662.0" stroke="#161616" stroke-width="5.05" stroke-linecap="round"/><line x1="620.0" y1="680.0" x2="620.0" y2="705.0" stroke="#161616" stroke-width="5.05" stroke-linecap="round"/><line x1="636.0" y1="680.0" x2="636.0" y2="705.0" stroke="#161616" stroke-width="5.05" stroke-linecap="round"/><circle cx="860.0" cy="680.0" r="42.0" fill="none" stroke="#161616" stroke-width="8.21"/><line x1="826.0" y1="682.0" x2="894.0" y2="682.0" stroke="#161616" stroke-width="11.37" stroke-linecap="butt"/><line x1="834.0" y1="692.0" x2="886.0" y2="692.0" stroke="#161616" stroke-width="8.85" stroke-linecap="butt"/><line x1="845.0" y1="701.0" x2="875.0" y2="701.0" stroke="#161616" stroke-width="7.58" stroke-linecap="butt"/><line x1="590.0" y1="570.0" x2="818.0" y2="680.0" stroke="#161616" stroke-width="6.32" stroke-linecap="round"/><line x1="590.0" y1="776.0" x2="818.0" y2="680.0" stroke="#161616" stroke-width="6.32" stroke-linecap="round"/><path d="M478,778 C478,850 535,850 545,940" fill="none" stroke="#161616" stroke-width="11.37" stroke-linejoin="round" stroke-linecap="round"/><path d="M583,778 C583,850 540,860 535,940" fill="none" stroke="#161616" stroke-width="11.37" stroke-linejoin="round" stroke-linecap="round"/><path d="M660,778 C660,850 575,850 565,940" fill="none" stroke="#161616" stroke-width="11.37" stroke-linejoin="round" stroke-linecap="round"/><path d="M521.0,905.0 L546.0,925.0 L546.0,1120.0 L521.0,1120.0 Z" fill="#b5b5b5" stroke="#161616" stroke-width="6.95" stroke-linejoin="round" stroke-linecap="round" /><path d="M549.0,940.0 L576.0,940.0 L576.0,1120.0 L549.0,1120.0 Z" fill="none" stroke="#161616" stroke-width="6.95" stroke-linejoin="round" stroke-linecap="round" /><line x1="531.0" y1="925.0" x2="531.0" y2="1120.0" stroke="#161616" stroke-width="5.69" stroke-linecap="round"/><line x1="539.0" y1="930.0" x2="539.0" y2="1120.0" stroke="#161616" stroke-width="5.69" stroke-linecap="round"/></g>
<text x="206.8" y="439.2" font-size="7.2" font-weight="bold" text-anchor="start" >N</text>
<text x="253.8" y="439.2" font-size="7.2" font-weight="bold" text-anchor="start" >L</text>
<text x="206.8" y="479.8" font-size="7.2" font-weight="bold" text-anchor="start" >N</text>
<text x="253.8" y="479.8" font-size="7.2" font-weight="bold" text-anchor="start" >L</text>
<line x1="182.2" y1="686.5" x2="392.5" y2="513.1" stroke="#161616" stroke-width="0.90" stroke-linecap="round"/><line x1="182.2" y1="715.2" x2="392.5" y2="541.8" stroke="#161616" stroke-width="0.90" stroke-linecap="round"/><line x1="182.2" y1="743.9" x2="392.5" y2="570.5" stroke="#161616" stroke-width="0.90" stroke-linecap="round"/><line x1="182.2" y1="772.6" x2="392.5" y2="599.2" stroke="#161616" stroke-width="0.90" stroke-linecap="round"/><line x1="252.5" y1="599.9" x2="252.5" y2="628.6" stroke="#161616" stroke-width="0.90" stroke-linecap="round"/><line x1="322.5" y1="542.2" x2="322.5" y2="570.9" stroke="#161616" stroke-width="0.90" stroke-linecap="round"/><line x1="217.5" y1="657.4" x2="217.5" y2="686.1" stroke="#161616" stroke-width="0.90" stroke-linecap="round"/><line x1="287.5" y1="599.8" x2="287.5" y2="628.5" stroke="#161616" stroke-width="0.90" stroke-linecap="round"/><line x1="357.5" y1="542.1" x2="357.5" y2="570.8" stroke="#161616" stroke-width="0.90" stroke-linecap="round"/><line x1="252.5" y1="657.3" x2="252.5" y2="686.0" stroke="#161616" stroke-width="0.90" stroke-linecap="round"/><line x1="322.5" y1="599.6" x2="322.5" y2="628.3" stroke="#161616" stroke-width="0.90" stroke-linecap="round"/><line x1="217.5" y1="714.8" x2="217.5" y2="743.5" stroke="#161616" stroke-width="0.90" stroke-linecap="round"/><line x1="287.5" y1="657.2" x2="287.5" y2="685.9" stroke="#161616" stroke-width="0.90" stroke-linecap="round"/><line x1="357.5" y1="599.5" x2="357.5" y2="628.2" stroke="#161616" stroke-width="0.90" stroke-linecap="round"/><line x1="252.5" y1="714.7" x2="252.5" y2="743.4" stroke="#161616" stroke-width="0.90" stroke-linecap="round"/><line x1="322.5" y1="657.0" x2="322.5" y2="685.7" stroke="#161616" stroke-width="0.90" stroke-linecap="round"/><path d="M182.2,657.8 L392.5,484.4" fill="none" stroke="#161616" stroke-width="1.35" stroke-linejoin="round" stroke-linecap="round" /><path d="M182.2,657.8 L182.2,801.7" fill="none" stroke="#161616" stroke-width="1.50" stroke-linejoin="round" stroke-linecap="round" /><path d="M182.2,801.7 L263.3,736.0" fill="none" stroke="#161616" stroke-width="1.80" stroke-linejoin="round" stroke-linecap="round" /><path d="M168.3,799.2 L182.2,801.7" fill="none" stroke="#161616" stroke-width="1.50" stroke-linejoin="round" stroke-linecap="round" /><path d="M168.3,652.5 L168.3,799.2" fill="none" stroke="#161616" stroke-width="1.80" stroke-linejoin="round" stroke-linecap="round" /><path d="M168.3,652.5 L182.2,657.8" fill="none" stroke="#161616" stroke-width="1.30" stroke-linejoin="round" stroke-linecap="round" /><path d="M168.3,652.5 L379.2,479.6" fill="none" stroke="#161616" stroke-width="2.30" stroke-linejoin="round" stroke-linecap="round" /><path d="M379.2,479.6 L391.0,483.6 Q392.8,484.3 392.8,486.5 L392.8,597" fill="none" stroke="#161616" stroke-width="2.00" stroke-linejoin="round" stroke-linecap="round"/>
<path d="M212.5,695.0 L362.0,571.3 L365.0,591.6 L227.0,705.0 Z" fill="#fdfdfb" stroke="none" stroke-width="0.10" stroke-linejoin="round" stroke-linecap="round" /><line x1="212.5" y1="695.0" x2="362.0" y2="571.3" stroke="#161616" stroke-width="1.70" stroke-linecap="round"/><line x1="214.5" y1="691.5" x2="358.5" y2="573.2" stroke="#161616" stroke-width="0.70" stroke-linecap="round"/><line x1="225.8" y1="701.7" x2="362.0" y2="590.0" stroke="#161616" stroke-width="2.00" stroke-linecap="round"/><line x1="227.5" y1="705.8" x2="365.8" y2="592.1" stroke="#161616" stroke-width="0.80" stroke-linecap="round"/><line x1="243.0" y1="681.0" x2="336.0" y2="603.5" stroke="#161616" stroke-width="0.60" stroke-linecap="round"/><ellipse cx="238.9" cy="684.3" rx="3.5" ry="5.6" fill="#262626" stroke="#161616" stroke-width="1.50" transform="rotate(18 238.9 684.3)"/><ellipse cx="238.5" cy="684.9" rx="1.3" ry="2.6" fill="#555" stroke="#888" stroke-width="0.50" transform="rotate(18 238.5 684.9)"/><ellipse cx="339.5" cy="600.5" rx="3.5" ry="5.6" fill="#262626" stroke="#161616" stroke-width="1.50" transform="rotate(18 339.5 600.5)"/><ellipse cx="339.1" cy="601.1" rx="1.3" ry="2.6" fill="#555" stroke="#888" stroke-width="0.50" transform="rotate(18 339.1 601.1)"/><line x1="226.0" y1="699.0" x2="235.0" y2="689.0" stroke="#161616" stroke-width="0.60" stroke-linecap="round"/><line x1="227.0" y1="700.5" x2="237.5" y2="689.5" stroke="#161616" stroke-width="0.60" stroke-linecap="round"/><path d="M211.3,715.5 L211.3,697.4 Q211.3,695.9 213.3,695.9 L218.185,696.5 Q226.60000000000002,697.4 226.60000000000002,704.972 L226.90000000000003,712.5 Q226.60000000000002,717.5 221.60000000000002,717.5 L215.3,716.9 Q210.3,716.0 211.3,713.5" fill="#fdfdfb" stroke="#161616" stroke-width="2.50" stroke-linejoin="round" stroke-linecap="round"/><path d="M362.0,590.2 L362.0,572.5 Q362.0,571.0 364.0,571.0 L369.335,571.6 Q378.3,572.5 378.3,579.904 L378.6,587.2 Q378.3,592.2 373.3,592.2 L366.0,591.6 Q361.0,590.7 362.0,588.2" fill="#fdfdfb" stroke="#161616" stroke-width="2.50" stroke-linejoin="round" stroke-linecap="round"/><line x1="364.6" y1="572.5" x2="364.6" y2="590.0" stroke="#161616" stroke-width="0.70" stroke-linecap="round"/><ellipse cx="215.6" cy="707.3" rx="1.6" ry="0.9" fill="#161616" stroke="#161616" stroke-width="0.60" transform="rotate(35 215.6 707.3)"/><line x1="216.0" y1="707.6" x2="224.0" y2="709.5" stroke="#161616" stroke-width="0.70" stroke-linecap="round"/><ellipse cx="367.2" cy="581.3" rx="1.6" ry="0.9" fill="#161616" stroke="#161616" stroke-width="0.60" transform="rotate(35 367.2 581.3)"/><line x1="368.5" y1="583.0" x2="369.5" y2="587.0" stroke="#777" stroke-width="0.60" stroke-linecap="round"/><line x1="226.9" y1="710.8" x2="264.0" y2="722.2" stroke="#161616" stroke-width="0.90" stroke-linecap="round"/><line x1="378.6" y1="584.2" x2="394.0" y2="589.6" stroke="#161616" stroke-width="0.90" stroke-linecap="round"/>
<line x1="288.0" y1="643.0" x2="634.9" y2="302.6" stroke="#161616" stroke-width="1.20" stroke-linecap="round"/>
<path d="M263.3,702.5 L439.2,558.5 L555.0,593.7 L555.0,657.7 L379.2,801.5 L263.3,766.7 Z" fill="#fdfdfb" stroke="none" stroke-width="0.10" stroke-linejoin="round" stroke-linecap="round" /><line x1="447.6" y1="574.8" x2="295.5" y2="698.6" stroke="#7a7a7a" stroke-width="2.80" stroke-linecap="butt"/><line x1="446.9" y1="573.9" x2="294.8" y2="697.7" stroke="#1a1a1a" stroke-width="0.85" stroke-linecap="butt"/><line x1="448.3" y1="575.7" x2="296.2" y2="699.5" stroke="#1a1a1a" stroke-width="0.85" stroke-linecap="butt"/><line x1="447.8" y1="574.2" x2="447.8" y2="638.3" stroke="#161616" stroke-width="1.10" stroke-linecap="round"/><line x1="447.8" y1="638.2" x2="467.6" y2="644.3" stroke="#161616" stroke-width="1.40" stroke-linecap="round"/><line x1="447.8" y1="638.2" x2="378.4" y2="694.2" stroke="#161616" stroke-width="1.60" stroke-linecap="round"/><g transform="translate(320,665) scale(0.058333)"><path d="M555,500 L985,150 L992,150 L1000,630 L840,750" fill="none" stroke="#161616" stroke-width="16.29" stroke-linejoin="round" stroke-linecap="round"/><path d="M1000,505 L800,665" fill="none" stroke="#161616" stroke-width="27.43" stroke-linejoin="round" stroke-linecap="round"/><path d="M400,515 L560,515 C700,560 820,700 870,860 L880,985 L120,760 L270,620 Z" fill="#fdfdfb" stroke="none" stroke-width="1.71" stroke-linejoin="round" stroke-linecap="round"/><path d="M270,620 L400,515 L560,515 C700,560 820,700 870,860 L880,985" fill="none" stroke="#161616" stroke-width="36.00" stroke-linejoin="round" stroke-linecap="round"/><path d="M270,620 L150,745" fill="none" stroke="#161616" stroke-width="34.29" stroke-linejoin="round" stroke-linecap="round"/><path d="M555,500 L430,600" fill="none" stroke="#161616" stroke-width="15.43" stroke-linejoin="round" stroke-linecap="round"/><path d="M340,612 C430,600 520,640 600,700 C660,770 710,850 740,935" fill="none" stroke="#161616" stroke-width="13.71" stroke-linejoin="round" stroke-linecap="round"/><path d="M330,650 C420,640 520,670 585,735 C640,800 670,870 690,925" fill="none" stroke="#333" stroke-width="12.00" stroke-linejoin="round" stroke-linecap="round"/><path d="M225,725 L350,735 C430,760 510,830 565,905" fill="none" stroke="#161616" stroke-width="32.57" stroke-linejoin="round" stroke-linecap="round"/><path d="M250,775 L345,775 C400,790 450,830 490,880" fill="none" stroke="#161616" stroke-width="20.57" stroke-linejoin="round" stroke-linecap="round"/><path d="M385,600 L385,830" fill="none" stroke="#333" stroke-width="12.00" stroke-linejoin="round" stroke-linecap="round"/><path d="M345,660 L460,662" fill="none" stroke="#555" stroke-width="10.29" stroke-linejoin="round" stroke-linecap="round"/><path d="M720,845 L1000,630" fill="none" stroke="#161616" stroke-width="15.43" stroke-linejoin="round" stroke-linecap="round"/><path d="M20,720 L215,555 L245,590 L140,770" fill="#fdfdfb" stroke="#161616" stroke-width="34.29" stroke-linejoin="round" stroke-linecap="round"/><path d="M215,555 L235,640 L180,730" fill="none" stroke="#161616" stroke-width="22.29" stroke-linejoin="round" stroke-linecap="round"/></g><path d="M429.6,566.6 L448.0,573.0" fill="none" stroke="#161616" stroke-width="1.90" stroke-linejoin="round" stroke-linecap="round" /><path d="M448.0,573.0 L526.7,597.5" fill="none" stroke="#161616" stroke-width="1.00" stroke-linejoin="round" stroke-linecap="round" /><path d="M276.7,694.2 L372.0,723.5" fill="none" stroke="#161616" stroke-width="2.00" stroke-linejoin="round" stroke-linecap="round" /><path d="M372.0,723.5 L526.7,597.5" fill="none" stroke="#161616" stroke-width="2.10" stroke-linejoin="round" stroke-linecap="round" /><path d="M263.3,702.5 L439.2,558.5" fill="none" stroke="#161616" stroke-width="2.40" stroke-linejoin="round" stroke-linecap="round" /><path d="M439.2,558.5 L555.0,593.7" fill="none" stroke="#161616" stroke-width="2.00" stroke-linejoin="round" stroke-linecap="round" /><path d="M555.0,593.7 L555.0,657.7" fill="none" stroke="#161616" stroke-width="1.90" stroke-linejoin="round" stroke-linecap="round" /><path d="M379.2,737.5 L555.0,593.7" fill="none" stroke="#161616" stroke-width="1.15" stroke-linejoin="round" stroke-linecap="round" /><path d="M263.3,702.5 L379.2,737.5" fill="none" stroke="#161616" stroke-width="1.30" stroke-linejoin="round" stroke-linecap="round" /><path d="M263.3,702.5 L263.3,766.7" fill="none" stroke="#161616" stroke-width="1.80" stroke-linejoin="round" stroke-linecap="round" /><path d="M263.3,766.7 L379.2,801.5" fill="none" stroke="#161616" stroke-width="1.80" stroke-linejoin="round" stroke-linecap="round" /><path d="M379.2,737.5 L379.2,801.5" fill="none" stroke="#161616" stroke-width="1.20" stroke-linejoin="round" stroke-linecap="round" /><path d="M379.2,801.5 L555.0,657.7" fill="none" stroke="#161616" stroke-width="1.90" stroke-linejoin="round" stroke-linecap="round" /><path d="M472.0,568.6 L477.4,565.0 L483.4,567.0 L483.4,571.8 Z" fill="#161616" stroke="#161616" stroke-width="0.60" stroke-linejoin="round" stroke-linecap="round"/><circle cx="483.4" cy="564.2" r="4.9" fill="#fdfdfb" stroke="#161616" stroke-width="1.90"/><circle cx="484.8" cy="564.0" r="2.7" fill="none" stroke="#161616" stroke-width="1.10"/><g transform="translate(225,725) scale(0.050000)"><path d="M790,405 L930,290" fill="none" stroke="#161616" stroke-width="18.00" stroke-linejoin="round" stroke-linecap="round"/><ellipse cx="970.0" cy="255.0" rx="52.0" ry="24.0" fill="#161616" stroke="#161616" stroke-width="12.00" transform="rotate(35 970.0 255.0)"/><path d="M300,725 L690,405 C740,395 800,420 790,480 L400,860 Z" fill="#1b1b1b" stroke="#161616" stroke-width="12.00" stroke-linejoin="round" stroke-linecap="round"/><circle cx="275.0" cy="830.0" r="100.0" fill="#1b1b1b" stroke="#161616" stroke-width="32.00"/><ellipse cx="220.0" cy="795.0" rx="26.0" ry="20.0" fill="#e8e8e8" stroke="#e8e8e8" stroke-width="4.00" transform="rotate(-40 220.0 795.0)"/><ellipse cx="310.0" cy="770.0" rx="26.0" ry="20.0" fill="#e8e8e8" stroke="#e8e8e8" stroke-width="4.00" transform="rotate(-40 310.0 770.0)"/><ellipse cx="335.0" cy="865.0" rx="26.0" ry="20.0" fill="#e8e8e8" stroke="#e8e8e8" stroke-width="4.00" transform="rotate(-40 335.0 865.0)"/><ellipse cx="245.0" cy="890.0" rx="26.0" ry="20.0" fill="#e8e8e8" stroke="#e8e8e8" stroke-width="4.00" transform="rotate(-40 245.0 890.0)"/><path d="M330,745 L352,800" fill="none" stroke="#bbb" stroke-width="10.00" stroke-linejoin="round" stroke-linecap="round"/><path d="M352,727 L374,782" fill="none" stroke="#bbb" stroke-width="10.00" stroke-linejoin="round" stroke-linecap="round"/><path d="M374,709 L396,764" fill="none" stroke="#bbb" stroke-width="10.00" stroke-linejoin="round" stroke-linecap="round"/></g>
<path d="M763.3,469.2 L888.6,512.5" fill="none" stroke="#161616" stroke-width="2.10" stroke-linejoin="round" stroke-linecap="round" /><path d="M761.0,472.6 L885.4,515.4" fill="none" stroke="#161616" stroke-width="0.80" stroke-linejoin="round" stroke-linecap="round" /><path d="M763.3,469.2 L760.9,471.8 L763.4,644.4" fill="none" stroke="#161616" stroke-width="1.70" stroke-linejoin="round" stroke-linecap="round" /><path d="M889.0,512.8 L893.3,742.0" fill="none" stroke="#161616" stroke-width="1.80" stroke-linejoin="round" stroke-linecap="round" /><path d="M885.4,515.4 L889.3,742.0" fill="none" stroke="#161616" stroke-width="1.10" stroke-linejoin="round" stroke-linecap="round" /><path d="M765.7,776.0 L765.8,817.5 L891.8,861.3 L891.9,822.0" fill="none" stroke="#161616" stroke-width="1.70" stroke-linejoin="round" stroke-linecap="round" /><path d="M889.8,860.3 L889.8,822.0" fill="none" stroke="#161616" stroke-width="0.80" stroke-linejoin="round" stroke-linecap="round" /><path d="M891.9,567.5 L1017.7,611.7" fill="none" stroke="#161616" stroke-width="2.10" stroke-linejoin="round" stroke-linecap="round" /><path d="M892.2,571.0 L1014.4,614.2" fill="none" stroke="#161616" stroke-width="0.80" stroke-linejoin="round" stroke-linecap="round" /><path d="M1017.7,611.7 L1020.2,728.0" fill="none" stroke="#161616" stroke-width="1.80" stroke-linejoin="round" stroke-linecap="round" /><path d="M1014.4,614.2 L1016.8,729.0" fill="none" stroke="#161616" stroke-width="1.00" stroke-linejoin="round" stroke-linecap="round" /><path d="M893.3,822.0 L896.3,916.3 L1022.6,959.5" fill="none" stroke="#161616" stroke-width="1.80" stroke-linejoin="round" stroke-linecap="round" /><path d="M1021.9,810.0 L1023.6,959.5" fill="none" stroke="#161616" stroke-width="1.70" stroke-linejoin="round" stroke-linecap="round" /><path d="M1018.7,812.0 L1020.3,957.6" fill="none" stroke="#161616" stroke-width="0.90" stroke-linejoin="round" stroke-linecap="round" /><path d="M690.3,690.8 L762.9,624.2 L763.3,644.2 L719.2,685.8 L707.0,696.8 Z" fill="#fdfdfb" stroke="none" stroke-width="0.10" stroke-linejoin="round" stroke-linecap="round" /><path d="M719.2,685.8 L970.0,769.2 L1015.8,729.2 L1020.8,727.5 L1020.8,713.3 L1047.5,721.7 L1049.7,781.7 L978.3,849.2 L960.8,844.2 L708.4,756.7 L692.5,750.8 L690.3,690.8 L707.0,696.8 Z" fill="#fdfdfb" stroke="none" stroke-width="0.10" stroke-linejoin="round" stroke-linecap="round" /><path d="M690.3,690.8 L762.6,624.4" fill="none" stroke="#161616" stroke-width="2.20" stroke-linejoin="round" stroke-linecap="round" /><path d="M719.2,685.8 L763.3,644.2" fill="none" stroke="#161616" stroke-width="1.20" stroke-linejoin="round" stroke-linecap="round" /><path d="M690.3,690.8 L692.5,750.8" fill="none" stroke="#161616" stroke-width="2.10" stroke-linejoin="round" stroke-linecap="round" /><path d="M690.3,690.8 L707.0,696.8" fill="none" stroke="#161616" stroke-width="1.40" stroke-linejoin="round" stroke-linecap="round" /><path d="M707.0,696.8 L719.2,685.8" fill="none" stroke="#161616" stroke-width="2.20" stroke-linejoin="round" stroke-linecap="round" /><path d="M707.0,696.8 L708.4,756.7" fill="none" stroke="#161616" stroke-width="2.00" stroke-linejoin="round" stroke-linecap="round" /><path d="M692.5,750.8 L708.4,756.7" fill="none" stroke="#161616" stroke-width="1.70" stroke-linejoin="round" stroke-linecap="round" /><path d="M719.2,685.8 L970.0,769.2" fill="none" stroke="#161616" stroke-width="2.20" stroke-linejoin="round" stroke-linecap="round" /><path d="M709.4,699.6 L959.7,784.6" fill="none" stroke="#161616" stroke-width="2.20" stroke-linejoin="round" stroke-linecap="round" /><path d="M709.0,697.3 L959.5,782.2" fill="none" stroke="#161616" stroke-width="0.80" stroke-linejoin="round" stroke-linecap="round" /><path d="M709.8,698.4 L711.0,756.8" fill="none" stroke="#161616" stroke-width="1.20" stroke-linejoin="round" stroke-linecap="round" /><path d="M711.0,756.8 L720.8,745.0 L958.0,825.0" fill="none" stroke="#161616" stroke-width="0.85" stroke-linejoin="round" stroke-linecap="round" /><path d="M708.4,756.7 L960.8,844.2 L978.3,849.2" fill="none" stroke="#161616" stroke-width="2.10" stroke-linejoin="round" stroke-linecap="round" /><ellipse cx="715.6" cy="721.5" rx="0.9" ry="1.6" fill="#444" stroke="#444" stroke-width="0.50" transform="rotate(20 715.6 721.5)"/><ellipse cx="719.8" cy="719.5" rx="0.5" ry="1.0" fill="#777" stroke="#777" stroke-width="0.40"/><line x1="721.0" y1="739.5" x2="721.0" y2="742.5" stroke="#777" stroke-width="0.60" stroke-linecap="round"/><line x1="764.6" y1="662.0" x2="764.6" y2="664.5" stroke="#888" stroke-width="0.60" stroke-linecap="round"/><line x1="764.9" y1="682.0" x2="764.9" y2="684.5" stroke="#888" stroke-width="0.60" stroke-linecap="round"/><path d="M959.7,783.7 L961.3,844.2" fill="none" stroke="#161616" stroke-width="1.40" stroke-linejoin="round" stroke-linecap="round" /><path d="M957.9,783.2 L958.2,825.0" fill="none" stroke="#161616" stroke-width="0.90" stroke-linejoin="round" stroke-linecap="round" /><path d="M959.7,783.7 L976.3,789.2" fill="none" stroke="#161616" stroke-width="1.30" stroke-linejoin="round" stroke-linecap="round" /><path d="M976.3,789.2 L978.3,849.2" fill="none" stroke="#161616" stroke-width="1.50" stroke-linejoin="round" stroke-linecap="round" /><path d="M959.9,783.5 L1017.2,728.4 L1020.4,727.2" fill="none" stroke="#161616" stroke-width="2.20" stroke-linejoin="round" stroke-linecap="round" /><path d="M976.3,789.2 L1047.5,721.7" fill="none" stroke="#161616" stroke-width="1.60" stroke-linejoin="round" stroke-linecap="round" /><path d="M1020.8,713.3 L1047.5,721.7" fill="none" stroke="#161616" stroke-width="2.10" stroke-linejoin="round" stroke-linecap="round" /><path d="M1047.5,721.7 L1049.7,781.7" fill="none" stroke="#161616" stroke-width="1.90" stroke-linejoin="round" stroke-linecap="round" /><path d="M978.3,849.2 L1049.7,781.7" fill="none" stroke="#161616" stroke-width="2.00" stroke-linejoin="round" stroke-linecap="round" /><ellipse cx="983.8" cy="812.5" rx="0.9" ry="1.7" fill="#161616" stroke="#161616" stroke-width="0.60" transform="rotate(25 983.8 812.5)"/>
<g transform="translate(915,715) scale(0.075000)"><path d="M230,530 L300,470 L480,520 L830,670 L760,760 L215,550 Z" fill="#fdfdfb" stroke="none" stroke-width="1.33" stroke-linejoin="round" stroke-linecap="round"/><path d="M480,520 L830,672" fill="none" stroke="#161616" stroke-width="25.33" stroke-linejoin="round" stroke-linecap="round"/><path d="M205,548 L740,758" fill="none" stroke="#161616" stroke-width="25.33" stroke-linejoin="round" stroke-linecap="round"/><path d="M300,470 L480,520" fill="none" stroke="#161616" stroke-width="16.00" stroke-linejoin="round" stroke-linecap="round"/><path d="M385,545 C360,560 350,585 352,610" fill="none" stroke="#161616" stroke-width="13.33" stroke-linejoin="round" stroke-linecap="round"/><path d="M410,555 C385,570 375,595 378,620" fill="none" stroke="#161616" stroke-width="10.67" stroke-linejoin="round" stroke-linecap="round"/><path d="M520,600 C500,615 492,640 495,662" fill="none" stroke="#161616" stroke-width="13.33" stroke-linejoin="round" stroke-linecap="round"/><path d="M760,690 C740,705 730,725 732,748" fill="none" stroke="#161616" stroke-width="13.33" stroke-linejoin="round" stroke-linecap="round"/><path d="M540,608 C520,623 512,648 515,670" fill="none" stroke="#161616" stroke-width="9.33" stroke-linejoin="round" stroke-linecap="round"/></g>
<g transform="translate(915,715) scale(0.075000)"><path d="M405,250 L500,210 L580,245 L625,310 L615,400 L560,440 L470,425 L500,500 L480,530 L300,470 L230,530 L210,545 L215,440 L260,395 L335,385 L400,330 Z" fill="#1c1c1c" stroke="#161616" stroke-width="10.67" stroke-linejoin="round" stroke-linecap="round"/><path d="M500,240 L575,285 L590,385" fill="none" stroke="#999" stroke-width="12.00" stroke-linejoin="round" stroke-linecap="round"/><path d="M380,400 L450,440 M355,420 L430,465" fill="none" stroke="#aaa" stroke-width="12.00" stroke-linejoin="round" stroke-linecap="round"/><path d="M425,265 L440,280" fill="none" stroke="#999" stroke-width="12.00" stroke-linejoin="round" stroke-linecap="round"/></g>
<g transform="translate(790,670) scale(0.058333)"><path d="M480,330 L600,285 L690,330 L750,400 L750,520 L690,565 L585,560 L540,640 L535,760 L475,800 L370,785 L255,740 L245,600 L300,535 L400,520 L470,430 Z" fill="#1c1c1c" stroke="#161616" stroke-width="13.71" stroke-linejoin="round" stroke-linecap="round"/><ellipse cx="372.0" cy="668.0" rx="52.0" ry="80.0" fill="#1c1c1c" stroke="#d0d0d0" stroke-width="25.71" transform="rotate(-35 372.0 668.0)"/><ellipse cx="385.0" cy="668.0" rx="20.0" ry="44.0" fill="#1c1c1c" stroke="#e0e0e0" stroke-width="22.29" transform="rotate(-35 385.0 668.0)"/><path d="M270,610 L330,560 L420,545" fill="none" stroke="#aaa" stroke-width="13.71" stroke-linejoin="round" stroke-linecap="round"/><path d="M595,345 L690,410 L700,520" fill="none" stroke="#999" stroke-width="15.43" stroke-linejoin="round" stroke-linecap="round"/><path d="M430,530 L540,600 M470,500 L560,560" fill="none" stroke="#888" stroke-width="15.43" stroke-linejoin="round" stroke-linecap="round"/><path d="M505,370 L520,385" fill="none" stroke="#999" stroke-width="15.43" stroke-linejoin="round" stroke-linecap="round"/></g>
<g transform="translate(930,250) scale(0.083333)"><path d="M110,290 C112,255 140,215 190,200 L600,200 C650,185 690,160 712,140 L722,150 C712,175 700,195 690,205 L985,200 L985,172 L1015,172 L1015,405 L985,405 L985,382 L690,378 C700,388 712,405 722,425 L712,435 C690,415 650,395 600,384 L190,384 C140,370 112,330 110,290 Z" fill="#181818" stroke="#161616" stroke-width="9.60" stroke-linejoin="round" stroke-linecap="round"/><path d="M128,280 C132,250 155,225 192,215 L192,280 Z" fill="#fdfdfb" stroke="none" stroke-width="1.20" stroke-linejoin="round" stroke-linecap="round"/><path d="M128,302 C132,332 155,358 192,368 L192,302 Z" fill="#fdfdfb" stroke="none" stroke-width="1.20" stroke-linejoin="round" stroke-linecap="round"/><rect x="212" y="214" width="38" height="54" fill="#fdfdfb"/><rect x="212" y="316" width="38" height="54" fill="#fdfdfb"/><rect x="268" y="214" width="67" height="26" fill="#fdfdfb"/><rect x="268" y="344" width="67" height="26" fill="#fdfdfb"/><rect x="355" y="214" width="85" height="48" fill="#fdfdfb"/><rect x="355" y="322" width="85" height="48" fill="#fdfdfb"/><rect x="462" y="214" width="68" height="26" fill="#fdfdfb"/><rect x="462" y="344" width="68" height="26" fill="#fdfdfb"/><rect x="552" y="216" width="48" height="46" fill="#fdfdfb"/><rect x="552" y="322" width="48" height="46" fill="#fdfdfb"/><rect x="628" y="228" width="62" height="44" fill="#fdfdfb"/><rect x="628" y="312" width="62" height="44" fill="#fdfdfb"/><path d="M215,275 L260,275 L345,312 L300,312 Z" fill="#fdfdfb" stroke="none" stroke-width="1.20" stroke-linejoin="round" stroke-linecap="round"/><path d="M430,275 L475,275 L560,312 L515,312 Z" fill="#fdfdfb" stroke="none" stroke-width="1.20" stroke-linejoin="round" stroke-linecap="round"/><rect x="702" y="228" width="22" height="130" fill="#fdfdfb"/><rect x="760" y="212" width="150" height="14" fill="#fdfdfb"/><rect x="760" y="355" width="150" height="14" fill="#fdfdfb"/><path d="M915,240 L982,215 L982,368 L915,345 Z" fill="#fdfdfb" stroke="none" stroke-width="1.20" stroke-linejoin="round" stroke-linecap="round"/><path d="M930,250 L968,236 L968,348 L930,335 Z" fill="#fdfdfb" stroke="#181818" stroke-width="12.00" stroke-linejoin="round" stroke-linecap="round"/><rect x="765" y="250" width="125" height="82" fill="#fdfdfb"/><path d="M802,262 C780,275 780,308 802,320 L802,262 Z" fill="#181818" stroke="none" stroke-width="1.20" stroke-linejoin="round" stroke-linecap="round"/><path d="M837,262 C815,275 815,308 837,320 L837,262 Z" fill="#181818" stroke="none" stroke-width="1.20" stroke-linejoin="round" stroke-linecap="round"/><path d="M872,262 C850,275 850,308 872,320 L872,262 Z" fill="#181818" stroke="none" stroke-width="1.20" stroke-linejoin="round" stroke-linecap="round"/></g>
<g transform="translate(930,250) scale(0.083333)"><g transform="translate(85,740) rotate(6.25)"><path d="M0,0 L70,-36 L960,-44 L1052,-58 L1052,58 L960,44 L70,40 Z" fill="#181818" stroke="#161616" stroke-width="9.60" stroke-linejoin="round" stroke-linecap="round"/><path d="M95,-24 L105,24" fill="none" stroke="#cfcfcf" stroke-width="6.00" stroke-linejoin="round" stroke-linecap="round"/><path d="M117,-24 L127,24" fill="none" stroke="#cfcfcf" stroke-width="6.00" stroke-linejoin="round" stroke-linecap="round"/><path d="M139,-24 L149,24" fill="none" stroke="#cfcfcf" stroke-width="6.00" stroke-linejoin="round" stroke-linecap="round"/><path d="M161,-24 L171,24" fill="none" stroke="#cfcfcf" stroke-width="6.00" stroke-linejoin="round" stroke-linecap="round"/><path d="M183,-24 L193,24" fill="none" stroke="#cfcfcf" stroke-width="6.00" stroke-linejoin="round" stroke-linecap="round"/><path d="M205,-24 L215,24" fill="none" stroke="#cfcfcf" stroke-width="6.00" stroke-linejoin="round" stroke-linecap="round"/><path d="M227,-24 L237,24" fill="none" stroke="#cfcfcf" stroke-width="6.00" stroke-linejoin="round" stroke-linecap="round"/><path d="M249,-24 L259,24" fill="none" stroke="#cfcfcf" stroke-width="6.00" stroke-linejoin="round" stroke-linecap="round"/><path d="M271,-24 L281,24" fill="none" stroke="#cfcfcf" stroke-width="6.00" stroke-linejoin="round" stroke-linecap="round"/><path d="M293,-24 L303,24" fill="none" stroke="#cfcfcf" stroke-width="6.00" stroke-linejoin="round" stroke-linecap="round"/><path d="M315,-24 L325,24" fill="none" stroke="#cfcfcf" stroke-width="6.00" stroke-linejoin="round" stroke-linecap="round"/><path d="M337,-24 L347,24" fill="none" stroke="#cfcfcf" stroke-width="6.00" stroke-linejoin="round" stroke-linecap="round"/><path d="M359,-24 L369,24" fill="none" stroke="#cfcfcf" stroke-width="6.00" stroke-linejoin="round" stroke-linecap="round"/><path d="M381,-24 L391,24" fill="none" stroke="#cfcfcf" stroke-width="6.00" stroke-linejoin="round" stroke-linecap="round"/><path d="M403,-24 L413,24" fill="none" stroke="#cfcfcf" stroke-width="6.00" stroke-linejoin="round" stroke-linecap="round"/><path d="M425,-24 L435,24" fill="none" stroke="#cfcfcf" stroke-width="6.00" stroke-linejoin="round" stroke-linecap="round"/><path d="M447,-24 L457,24" fill="none" stroke="#cfcfcf" stroke-width="6.00" stroke-linejoin="round" stroke-linecap="round"/><path d="M469,-24 L479,24" fill="none" stroke="#cfcfcf" stroke-width="6.00" stroke-linejoin="round" stroke-linecap="round"/><path d="M491,-24 L501,24" fill="none" stroke="#cfcfcf" stroke-width="6.00" stroke-linejoin="round" stroke-linecap="round"/><path d="M513,-24 L523,24" fill="none" stroke="#cfcfcf" stroke-width="6.00" stroke-linejoin="round" stroke-linecap="round"/><path d="M535,-24 L545,24" fill="none" stroke="#cfcfcf" stroke-width="6.00" stroke-linejoin="round" stroke-linecap="round"/><path d="M557,-24 L567,24" fill="none" stroke="#cfcfcf" stroke-width="6.00" stroke-linejoin="round" stroke-linecap="round"/><path d="M579,-24 L589,24" fill="none" stroke="#cfcfcf" stroke-width="6.00" stroke-linejoin="round" stroke-linecap="round"/><path d="M601,-24 L611,24" fill="none" stroke="#cfcfcf" stroke-width="6.00" stroke-linejoin="round" stroke-linecap="round"/><path d="M623,-24 L633,24" fill="none" stroke="#cfcfcf" stroke-width="6.00" stroke-linejoin="round" stroke-linecap="round"/><path d="M645,-24 L655,24" fill="none" stroke="#cfcfcf" stroke-width="6.00" stroke-linejoin="round" stroke-linecap="round"/><path d="M667,-24 L677,24" fill="none" stroke="#cfcfcf" stroke-width="6.00" stroke-linejoin="round" stroke-linecap="round"/><path d="M689,-24 L699,24" fill="none" stroke="#cfcfcf" stroke-width="6.00" stroke-linejoin="round" stroke-linecap="round"/><path d="M711,-24 L721,24" fill="none" stroke="#cfcfcf" stroke-width="6.00" stroke-linejoin="round" stroke-linecap="round"/><path d="M733,-24 L743,24" fill="none" stroke="#cfcfcf" stroke-width="6.00" stroke-linejoin="round" stroke-linecap="round"/><path d="M755,-24 L765,24" fill="none" stroke="#cfcfcf" stroke-width="6.00" stroke-linejoin="round" stroke-linecap="round"/><path d="M777,-24 L787,24" fill="none" stroke="#cfcfcf" stroke-width="6.00" stroke-linejoin="round" stroke-linecap="round"/><path d="M799,-24 L809,24" fill="none" stroke="#cfcfcf" stroke-width="6.00" stroke-linejoin="round" stroke-linecap="round"/><path d="M821,-24 L831,24" fill="none" stroke="#cfcfcf" stroke-width="6.00" stroke-linejoin="round" stroke-linecap="round"/><path d="M843,-24 L853,24" fill="none" stroke="#cfcfcf" stroke-width="6.00" stroke-linejoin="round" stroke-linecap="round"/><path d="M865,-24 L875,24" fill="none" stroke="#cfcfcf" stroke-width="6.00" stroke-linejoin="round" stroke-linecap="round"/><path d="M887,-24 L897,24" fill="none" stroke="#cfcfcf" stroke-width="6.00" stroke-linejoin="round" stroke-linecap="round"/><path d="M909,-24 L919,24" fill="none" stroke="#cfcfcf" stroke-width="6.00" stroke-linejoin="round" stroke-linecap="round"/><path d="M931,-24 L941,24" fill="none" stroke="#cfcfcf" stroke-width="6.00" stroke-linejoin="round" stroke-linecap="round"/><path d="M953,-24 L963,24" fill="none" stroke="#cfcfcf" stroke-width="6.00" stroke-linejoin="round" stroke-linecap="round"/><path d="M985,-30 L1040,-42 L1040,42 L985,28 Z" fill="#fdfdfb" stroke="none" stroke-width="1.20" stroke-linejoin="round" stroke-linecap="round"/></g></g>
<g transform="translate(1025,235) scale(0.112511)"><path d="M62,98 L160,133" fill="none" stroke="#161616" stroke-width="23.11" stroke-linejoin="round" stroke-linecap="butt"/><path d="M75,94.0 L80,112.0" fill="none" stroke="#ccc" stroke-width="4.44" stroke-linejoin="round" stroke-linecap="round"/><path d="M92,100.2 L97,118.2" fill="none" stroke="#ccc" stroke-width="4.44" stroke-linejoin="round" stroke-linecap="round"/><path d="M109,106.4 L114,124.4" fill="none" stroke="#ccc" stroke-width="4.44" stroke-linejoin="round" stroke-linecap="round"/><path d="M126,112.6 L131,130.6" fill="none" stroke="#ccc" stroke-width="4.44" stroke-linejoin="round" stroke-linecap="round"/><path d="M143,118.8 L148,136.8" fill="none" stroke="#ccc" stroke-width="4.44" stroke-linejoin="round" stroke-linecap="round"/><path d="M160,134 L222,150" fill="none" stroke="#161616" stroke-width="8.89" stroke-linejoin="round" stroke-linecap="round"/><path d="M217,150 L232,118 L318,88 C352,120 354,210 322,250 L268,238 L232,184 Z" fill="#fdfdfb" stroke="#161616" stroke-width="13.33" stroke-linejoin="round" stroke-linecap="round"/><path d="M268,110 C287,150 287,200 264,236" fill="none" stroke="#161616" stroke-width="13.33" stroke-linejoin="round" stroke-linecap="round"/><path d="M232,118 C243,140 243,165 232,184" fill="none" stroke="#161616" stroke-width="8.89" stroke-linejoin="round" stroke-linecap="round"/><path d="M318,88 L405,98 C440,130 447,250 428,292 L322,250" fill="#fdfdfb" stroke="#161616" stroke-width="13.33" stroke-linejoin="round" stroke-linecap="round"/><path d="M318,88 C352,120 354,210 322,250" fill="none" stroke="#161616" stroke-width="13.33" stroke-linejoin="round" stroke-linecap="round"/><path d="M405,98 C378,140 372,232 402,282" fill="none" stroke="#161616" stroke-width="13.33" stroke-linejoin="round" stroke-linecap="round"/><path d="M440,140 L530,100 L870,190 L795,225 Z" fill="#fdfdfb" stroke="#161616" stroke-width="13.33" stroke-linejoin="round" stroke-linecap="round"/><path d="M440,140 L795,225 L760,290 L735,365 L440,295 Z" fill="#fdfdfb" stroke="#161616" stroke-width="13.33" stroke-linejoin="round" stroke-linecap="round"/><path d="M445,212 L760,290" fill="none" stroke="#161616" stroke-width="13.33" stroke-linejoin="round" stroke-linecap="round"/><path d="M470,130 L545,112 L840,192" fill="none" stroke="#161616" stroke-width="8.89" stroke-linejoin="round" stroke-linecap="round"/><path d="M795,225 L870,190 L880,215 L895,300 L905,340 L780,380 L735,365 L760,290 Z" fill="#fdfdfb" stroke="#161616" stroke-width="13.33" stroke-linejoin="round" stroke-linecap="round"/><path d="M780,318 L892,290" fill="none" stroke="#161616" stroke-width="13.33" stroke-linejoin="round" stroke-linecap="round"/><path d="M760,290 L780,318 L800,372" fill="none" stroke="#161616" stroke-width="8.89" stroke-linejoin="round" stroke-linecap="round"/><path d="M808,232 L872,205" fill="none" stroke="#161616" stroke-width="8.89" stroke-linejoin="round" stroke-linecap="round"/><path d="M670,368 L668,500 L690,520 L745,690 L775,775 L955,820 L918,600 L885,420 L905,340 L780,380 L735,365 Z" fill="#fdfdfb" stroke="#161616" stroke-width="13.33" stroke-linejoin="round" stroke-linecap="round"/><path d="M700,450 L770,470 L790,440 L780,380" fill="none" stroke="#161616" stroke-width="13.33" stroke-linejoin="round" stroke-linecap="round"/><path d="M690,520 L700,450" fill="none" stroke="#161616" stroke-width="13.33" stroke-linejoin="round" stroke-linecap="round"/><path d="M700,450 L850,500 L872,425" fill="none" stroke="#161616" stroke-width="13.33" stroke-linejoin="round" stroke-linecap="round"/><path d="M810,515 L842,790" fill="none" stroke="#161616" stroke-width="13.33" stroke-linejoin="round" stroke-linecap="round"/><path d="M850,500 L940,805" fill="none" stroke="#161616" stroke-width="13.33" stroke-linejoin="round" stroke-linecap="round"/><path d="M885,420 C905,440 905,470 895,500" fill="none" stroke="#161616" stroke-width="8.89" stroke-linejoin="round" stroke-linecap="round"/><path d="M650,815 L720,770 L775,775 L955,820 L1000,810 L1000,1060 L865,1110 L650,1065 Z" fill="#fdfdfb" stroke="#161616" stroke-width="13.33" stroke-linejoin="round" stroke-linecap="round"/><path d="M650,815 L860,870 L865,1110" fill="none" stroke="#161616" stroke-width="13.33" stroke-linejoin="round" stroke-linecap="round"/><path d="M860,870 L1000,810" fill="none" stroke="#161616" stroke-width="13.33" stroke-linejoin="round" stroke-linecap="round"/><path d="M668,835 L668,1050 L850,1090 L848,880 Q790,868 668,835" fill="none" stroke="#161616" stroke-width="8.89" stroke-linejoin="round" stroke-linecap="round"/><path d="M720,770 L740,800 L900,845 L955,820" fill="none" stroke="#161616" stroke-width="8.89" stroke-linejoin="round" stroke-linecap="round"/></g>
<text x="980.5" y="302.9" font-size="12.8" font-weight="normal" text-anchor="start" >x2</text>
</svg>
</body></html>
